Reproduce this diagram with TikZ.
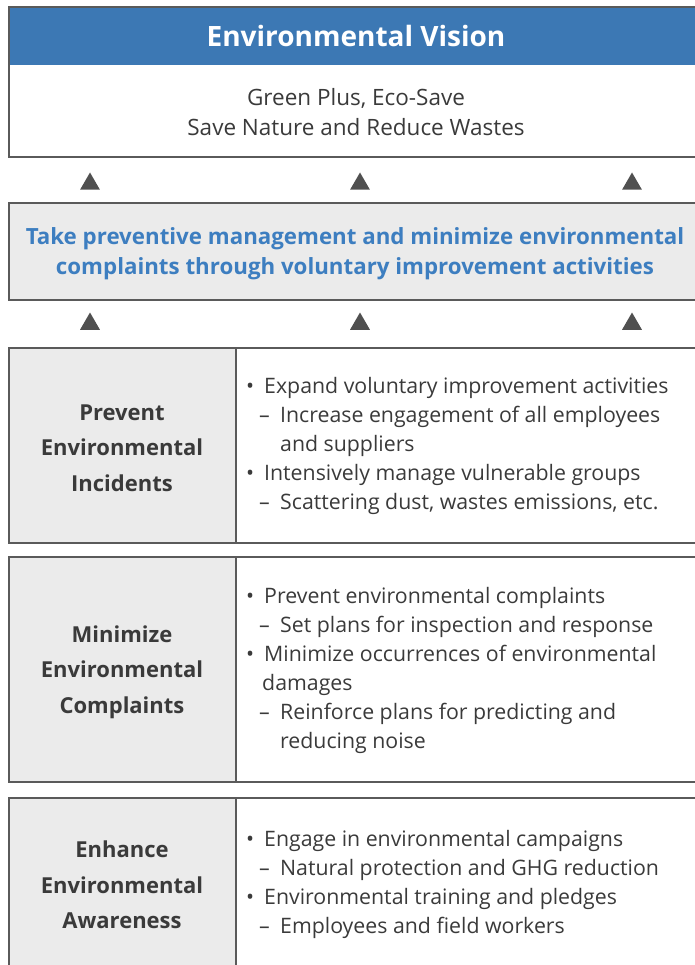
\documentclass[tikz,border=0pt]{standalone}
\usepackage{fontspec}
\setmainfont{Open Sans}
\usetikzlibrary{shapes.geometric}
\definecolor{vblue}{HTML}{3C78B4}
\definecolor{tblue}{HTML}{3D7EC0}
\definecolor{cellgray}{HTML}{EBEBEB}
\definecolor{lineg}{HTML}{5A5A5A}
\definecolor{txt}{HTML}{3A3A3A}
\definecolor{tri}{HTML}{505050}
\newcommand{\bul}{\makebox[18pt][l]{•}}
\newcommand{\sub}{\hspace*{13pt}\makebox[21pt][l]{–}}
\newcommand{\subc}{\hspace*{34pt}}
\newcommand{\bulc}{\hspace*{16pt}}
\begin{document}
\begin{tikzpicture}[x=1pt,y=-1pt,
  frame/.style={draw=lineg, line width=1.4pt},
  marker/.style={regular polygon, regular polygon sides=3, fill=tri, inner sep=0pt, minimum size=23pt},
  label/.style={align=center, text=txt, font=\bfseries\fontsize{22}{35.5}\selectfont},
  items/.style={align=left, anchor=west, inner sep=0pt, text=txt, font=\fontsize{21.3}{29}\selectfont}]
\useasboundingbox (0,0) rectangle (695,965);
\clip (0,0) rectangle (695,965);
% vision box
\fill[vblue] (9,7) rectangle (710,65);
\draw[frame] (9,7) rectangle (710,157);
\node[text=white, font=\bfseries\fontsize{28}{32}\selectfont] (vision) at (356,36) {Environmental Vision};
\node[align=center, text=txt, font=\fontsize{22.5}{30}\selectfont] (slogan) at (356,112) {Green Plus, Eco-Save\\Save Nature and Reduce Wastes};
% markers row 1
\node[marker] (m1) at (90,184) {};
\node[marker] (m2) at (360,184) {};
\node[marker] (m3) at (632,184) {};
% goal box
\draw[frame, fill=cellgray] (9,203) rectangle (710,300);
\node[align=center, text=tblue, font=\bfseries\fontsize{22.3}{30}\selectfont] (goal) at (355,254) {Take preventive management and minimize environmental\\complaints through voluntary improvement activities};
% markers row 2
\node[marker] (m4) at (90,324) {};
\node[marker] (m5) at (360,324) {};
\node[marker] (m6) at (632,324) {};
% row 1
\draw[frame, fill=cellgray] (9,348) rectangle (236,543);
\draw[frame] (236,348) rectangle (710,543);
\node[label] (l1) at (122,448) {Prevent\\Environmental\\Incidents};
\node[items] (r1) at (246,446) {\bul Expand voluntary improvement activities\\
\sub Increase engagement of all employees\\
\subc and suppliers\\
\bul Intensively manage vulnerable groups\\
\sub Scattering dust, wastes emissions, etc.};
% row 2
\draw[frame, fill=cellgray] (9,557) rectangle (236,782);
\draw[frame] (236,557) rectangle (710,782);
\node[label] (l2) at (122,672) {Minimize\\Environmental\\Complaints};
\node[items] (r2) at (246,670) {\bul Prevent environmental complaints\\
\sub Set plans for inspection and response\\
\bul Minimize occurrences of environmental\\
\bulc damages\\
\sub Reinforce plans for predicting and\\
\subc reducing noise};
% row 3
\draw[frame, fill=cellgray] (9,798) rectangle (236,990);
\draw[frame] (236,798) rectangle (710,990);
\node[label] (l3) at (122,885) {Enhance\\Environmental\\Awareness};
\node[items] (r3) at (246,884) {\bul Engage in environmental campaigns\\
\sub Natural protection and GHG reduction\\
\bul Environmental training and pledges\\
\sub Employees and field workers};
\end{tikzpicture}
\end{document}
